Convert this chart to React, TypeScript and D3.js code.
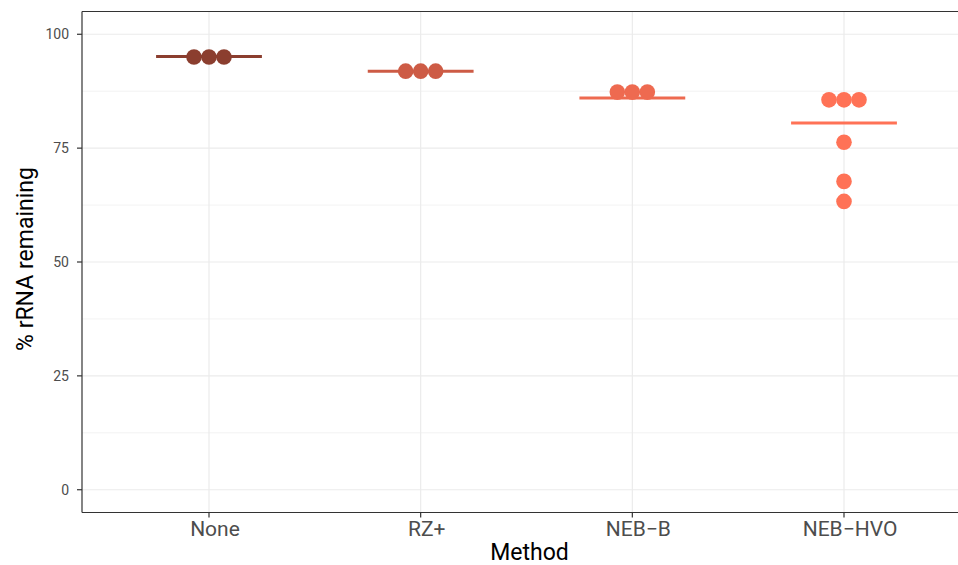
import React from "react";
import * as d3 from "d3";

const methods = ["None", "RZ+", "NEB\u2212B", "NEB\u2212HVO"];
const colors = ["#8B3E2F", "#CD5B45", "#EE6A50", "#FF7256"];
// dot values (binned positions) per method
const noneVals = [95, 95, 95];
const rzVals = [91.9, 91.9, 91.9];
const nebBVals = [87.3, 87.3, 87.3];
const nebHvoVals = [85.6, 85.6, 85.6, 76.3, 67.7, 63.3];
const medians = [95.1, 91.9, 86.0, 80.5];
const yTicks = [0, 25, 50, 75, 100];
const yMinor = [12.5, 37.5, 62.5, 87.5];

const W = 958, H = 565;
const left = 82, right = 971, top = 11.5, bottom = 512.5;

export default function App() {
  const x = d3.scalePoint<string>().domain(methods).range([left, right]).padding(0.6);
  const y = d3.scaleLinear().domain([-5, 105]).range([bottom, top]);
  const allVals = [noneVals, rzVals, nebBVals, nebHvoVals];
  const r = 7.8;
  const spacing = 15;
  const halfW = x.step() * 0.25;

  const dots: { cx: number; cy: number; fill: string; key: string }[] = [];
  allVals.forEach((vals, i) => {
    const groups = d3.group(vals, (v) => v);
    let k = 0;
    groups.forEach((arr, v) => {
      const n = arr.length;
      arr.forEach((_, j) => {
        dots.push({
          cx: (x(methods[i]) as number) + (j - (n - 1) / 2) * spacing,
          cy: y(v),
          fill: colors[i],
          key: `${i}-${k++}`,
        });
      });
    });
  });

  const font = "Roboto, 'Noto Sans', sans-serif";
  return (
    <svg width={W} height={H} style={{ position: "absolute", left: 0, top: 0 }}>
      <rect x={0} y={0} width={W} height={H} fill="#fff" />
      <defs>
        <clipPath id="panel">
          <rect x={left} y={top} width={right - left} height={bottom - top} />
        </clipPath>
      </defs>
      <g clipPath="url(#panel)">
        {yMinor.map((t) => (
          <line key={"m" + t} x1={left} x2={right} y1={y(t)} y2={y(t)} stroke="#EBEBEB" strokeWidth={0.6} />
        ))}
        {yTicks.map((t) => (
          <line key={"g" + t} x1={left} x2={right} y1={y(t)} y2={y(t)} stroke="#EBEBEB" strokeWidth={1.2} />
        ))}
        {methods.map((m) => (
          <line key={"v" + m} x1={x(m)} x2={x(m)} y1={top} y2={bottom} stroke="#EBEBEB" strokeWidth={1.2} />
        ))}
        {methods.map((m, i) => (
          <line
            key={"med" + m}
            x1={(x(m) as number) - halfW}
            x2={(x(m) as number) + halfW}
            y1={y(medians[i])}
            y2={y(medians[i])}
            stroke={colors[i]}
            strokeWidth={3}
          />
        ))}
        {dots.map((d) => (
          <circle key={d.key} cx={d.cx} cy={d.cy} r={r} fill={d.fill} />
        ))}
      </g>
      <line x1={left} x2={W} y1={top} y2={top} stroke="#333" strokeWidth={1.2} />
      <line x1={left} x2={W} y1={bottom} y2={bottom} stroke="#333" strokeWidth={1.2} />
      <line x1={left} x2={left} y1={top} y2={bottom} stroke="#333" strokeWidth={1.2} />
      {yTicks.map((t) => (
        <g key={"yt" + t}>
          <line x1={left - 5} x2={left} y1={y(t)} y2={y(t)} stroke="#333" strokeWidth={1.2} />
          <text x={left - 13} y={y(t)} dy="0.36em" textAnchor="end" fontSize={14} fill="#4D4D4D" fontFamily={font}>
            {t}
          </text>
        </g>
      ))}
      {methods.map((m) => (
        <g key={"xt" + m}>
          <line x1={x(m)} x2={x(m)} y1={bottom} y2={bottom + 5} stroke="#333" strokeWidth={1.2} />
          <text x={(x(m) as number) + 6} y={bottom + 23} textAnchor="middle" fontSize={21} fill="#4D4D4D" fontFamily={font}>
            {m}
          </text>
        </g>
      ))}
      <text x={(left + right) / 2 + 3} y={560} textAnchor="middle" fontSize={23} fill="#000" fontFamily={font}>
        Method
      </text>
      <text
        transform={`translate(33, ${(top + bottom) / 2 - 3}) rotate(-90)`}
        textAnchor="middle"
        fontSize={23}
        fill="#000"
        fontFamily={font}
      >
        % rRNA remaining
      </text>
    </svg>
  );
}
